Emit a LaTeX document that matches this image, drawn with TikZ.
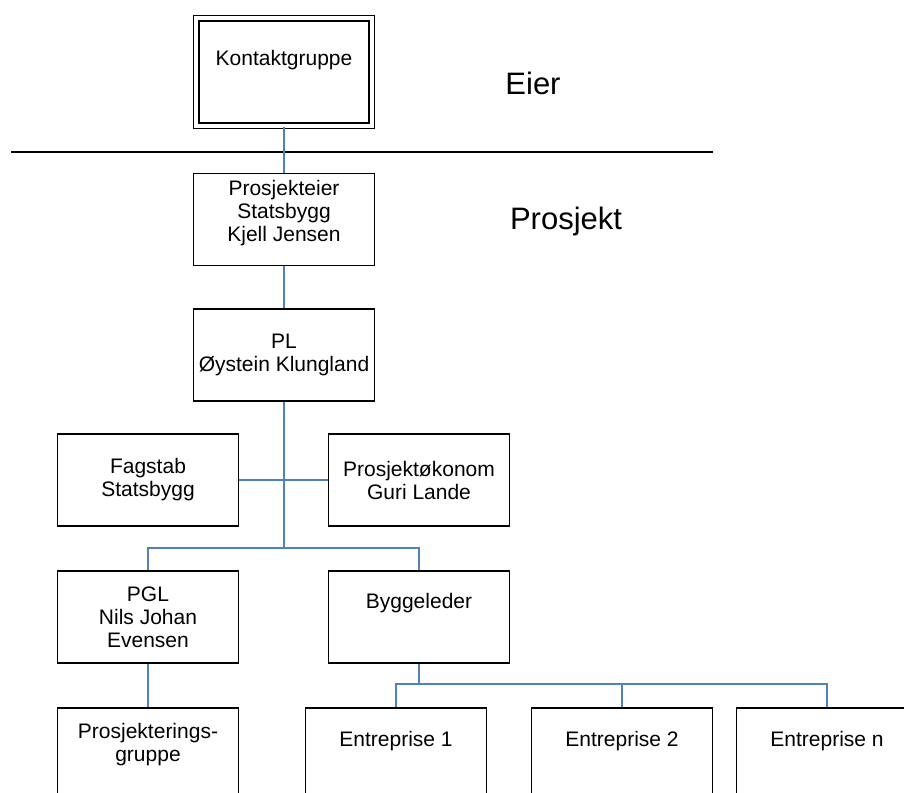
\documentclass[tikz,border=0pt]{standalone}
\usepackage{fontspec}
\setmainfont{Liberation Sans}
\definecolor{linkblue}{HTML}{4F81BD}

\begin{document}
\begin{tikzpicture}[x=1pt, y=-1pt,
    block/.style={draw, rectangle, line width=1.5pt, minimum width=181pt, minimum height=92pt, align=center, font=\fontsize{21}{23}\selectfont},
    oneline/.style={text height=15pt, text depth=#1},
    lift/.style={text depth=#1},
    link/.style={draw=linkblue, line width=1.5pt},
    level/.style={anchor=base, font=\fontsize{31}{36}\selectfont}
  ]
    \useasboundingbox (0,0) rectangle (904,792);
    \clip (0,0) rectangle (904,792);

    % Owner level
    \node[block, double, double distance=4.2pt, minimum width=175.4pt, minimum height=107.6pt, oneline=27.6pt] at (284,72) (kontakt) {Kontaktgruppe};
    \node[level] at (533,94) (eier) {Eier};

    \coordinate (sepL) at (11,152);
    \coordinate (sepR) at (713,152);
    \draw[line width=1.5pt] (sepL) -- (sepR);

    % Project level
    \node[level] at (566,229.5) (prosjekt) {Prosjekt};
    \node[block, lift=17.4pt] at (284,219.5) (eieren)  {Prosjekteier\\Statsbygg\\Kjell Jensen};
    \node[block] at (284,355)   (pl)      {PL\\Øystein Klungland};
    \node[block] at (148,480)   (fagstab) {Fagstab\\Statsbygg};
    \node[block] at (419,480)   (okonom)  {Prosjektøkonom\\Guri Lande};
    \node[block] at (148,617)   (pgl)     {PGL\\Nils Johan\\Evensen};
    \node[block, oneline=32pt] at (419,617) (bygg) {Byggeleder};

    % Bottom row (runs off the page)
    \node[block, lift=23.4pt] at (148,754) (prosjgr) {Prosjekterings-\\gruppe};
    \node[block, oneline=31pt] at (396,754) (ent1) {Entreprise 1};
    \node[block, oneline=31pt] at (622,754) (ent2) {Entreprise 2};
    \node[block, oneline=31pt] at (827,754) (entn) {Entreprise n};

    % Connections
    \coordinate (plfork) at (284,548);
    \coordinate (byfork) at (419,684);

    \draw[link] (kontakt) -- (eieren);
    \draw[link] (eieren) -- (pl);
    \draw[link] (pl) -- (plfork);
    \draw[link] (fagstab) -- (okonom);
    \foreach \b in {pgl,bygg}
      \draw[link] (plfork) -| (\b.north);
    \draw[link] (pgl) -- (prosjgr);
    \draw[link] (bygg) -- (byfork);
    \foreach \e in {ent1,ent2,entn}
      \draw[link] (byfork) -| (\e.north);

  \end{tikzpicture}
\end{document}
